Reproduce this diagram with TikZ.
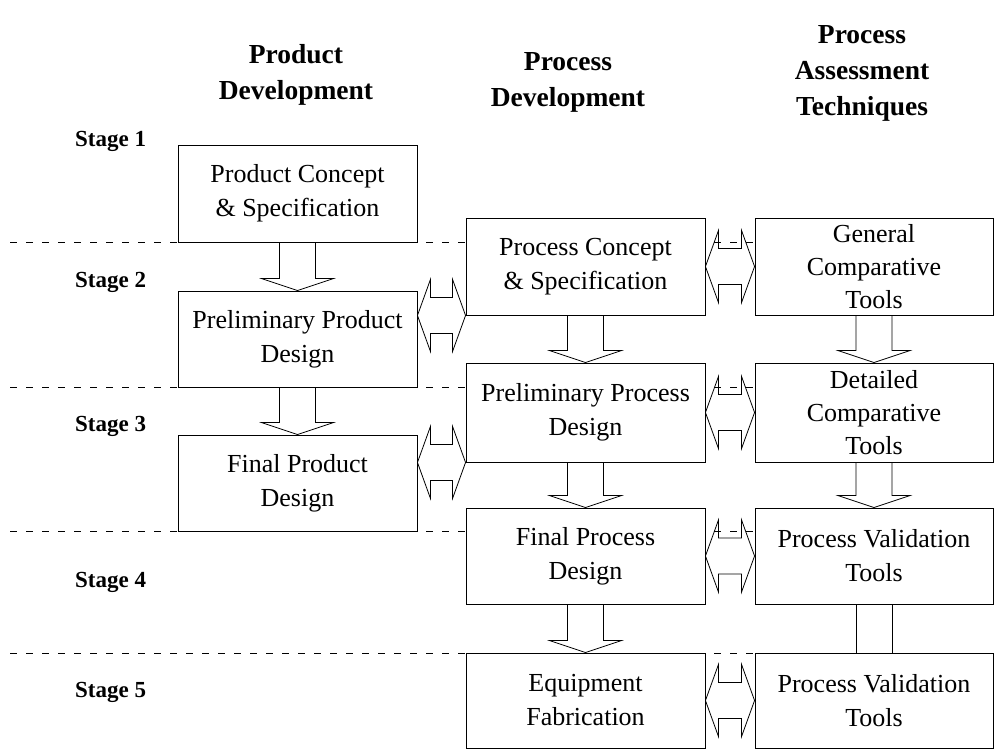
\documentclass[tikz,border=0pt]{standalone}
\usepackage{fontspec}
\setmainfont{Liberation Serif}
\usetikzlibrary{calc}

\tikzset{
  stagebox/.style={draw, line width=0.9pt, fill=white, inner sep=0pt,
    minimum width=239pt, align=center,
    font=\fontsize{26}{34}\selectfont},
  header/.style={align=center, font=\bfseries\fontsize{27.5}{36}\selectfont},
  stagelabel/.style={anchor=west, inner sep=0pt, font=\bfseries\fontsize{23}{28}\selectfont},
  separator/.style={line width=0.8pt, dash pattern=on 7pt off 9pt},
  blockarrow/.style={line width=0.8pt, line join=miter},
}

% hollow block arrow pointing down, from the bottom of #1 to the top of #2
\newcommand\blockdown[2]{%
  \draw[blockarrow] let \p1=(#1.south), \p2=(#2.north) in
    (\x1-18pt,\y1) -- (\x1-18pt,\y2+12pt) -- (\x1-36pt,\y2+12pt) -- (\x1,\y2)
    -- (\x1+36pt,\y2+12pt) -- (\x1+18pt,\y2+12pt) -- (\x1+18pt,\y1);}

% hollow double-headed block arrow between two points at the same height
\newcommand\blockboth[2]{%
  \draw[blockarrow] let \p1=(#1), \p2=(#2) in
    (\x1,\y1) -- (\x1+13pt,\y1+36pt) -- (\x1+13pt,\y1+18pt) -- (\x2-13pt,\y1+18pt)
    -- (\x2-13pt,\y1+36pt) -- (\x2,\y1) -- (\x2-13pt,\y1-36pt) -- (\x2-13pt,\y1-18pt)
    -- (\x1+13pt,\y1-18pt) -- (\x1+13pt,\y1-36pt) -- cycle;}

\begin{document}
\begin{tikzpicture}[x=1pt,y=-1pt]
\useasboundingbox[fill=white] (0,0) rectangle (1006,749);

% column headings
\node[header] (hprod) at (296,75) {Product\\Development};
\node[header] (hproc) at (568,82) {Process\\Development};
\node[header] (hasmt) at (862,73) {Process\\Assessment\\Techniques};

% stage labels
\node[stagelabel] (s1) at (75,141) {Stage 1};
\node[stagelabel] (s2) at (75,282) {Stage 2};
\node[stagelabel] (s3) at (75,426) {Stage 3};
\node[stagelabel] (s4) at (75,582) {Stage 4};
\node[stagelabel] (s5) at (75,692) {Stage 5};

% stage separators
\foreach \yy in {242,387,531,653}
  \draw[separator] (10,\yy) -- (1000,\yy);

% product development
\node[stagebox, minimum height=97pt] (pcs) at (297.5,193.5) {Product Concept\\\& Specification};
\node[stagebox, minimum height=96pt] (ppd) at (297.5,339) {Preliminary Product\\Design};
\node[stagebox, minimum height=96pt] (fpd) at (297.5,483) {Final Product\\Design};

% process development
\node[stagebox, minimum height=97pt] (rcs) at (585.5,266.5) {Process Concept\\\& Specification};
\node[stagebox, minimum height=99pt] (rpd) at (585.5,412.5) {Preliminary Process\\Design};
\node[stagebox, minimum height=96pt] (rfd) at (585.5,556) {Final Process\\Design};
\node[stagebox, minimum height=95pt] (eqf) at (585.5,700.5) {Equipment\\Fabrication};

% process assessment techniques
\node[stagebox, minimum width=238pt, minimum height=97pt, font=\fontsize{26}{33}\selectfont]
  (gct) at (874,266.5) {General\\Comparative\\Tools};
\node[stagebox, minimum width=238pt, minimum height=99pt, font=\fontsize{26}{33}\selectfont]
  (dct) at (874,412.5) {Detailed\\Comparative\\Tools};
\node[stagebox, minimum width=238pt, minimum height=96pt] (pv1) at (874,556) {Process Validation\\Tools};
\node[stagebox, minimum width=238pt, minimum height=95pt] (pv2) at (874,700.5) {Process Validation\\Tools};

% flow down each column
\blockdown{pcs}{ppd}
\blockdown{ppd}{fpd}
\blockdown{rcs}{rpd}
\blockdown{rpd}{rfd}
\blockdown{rfd}{eqf}
\blockdown{gct}{dct}
\blockdown{dct}{pv1}
\draw[blockarrow] let \p1=(pv1.south), \p2=(pv2.north) in
  (\x1-18pt,\y1) -- (\x1-18pt,\y2) (\x1+18pt,\y1) -- (\x1+18pt,\y2);

% exchanges between columns
\blockboth{ppd.east |- rcs.south}{rcs.south west}
\blockboth{fpd.east |- rpd.south}{rpd.south west}
\blockboth{rcs.east}{gct.west}
\blockboth{rpd.east}{dct.west}
\blockboth{rfd.east}{pv1.west}
\blockboth{eqf.east}{pv2.west}
\end{tikzpicture}
\end{document}
